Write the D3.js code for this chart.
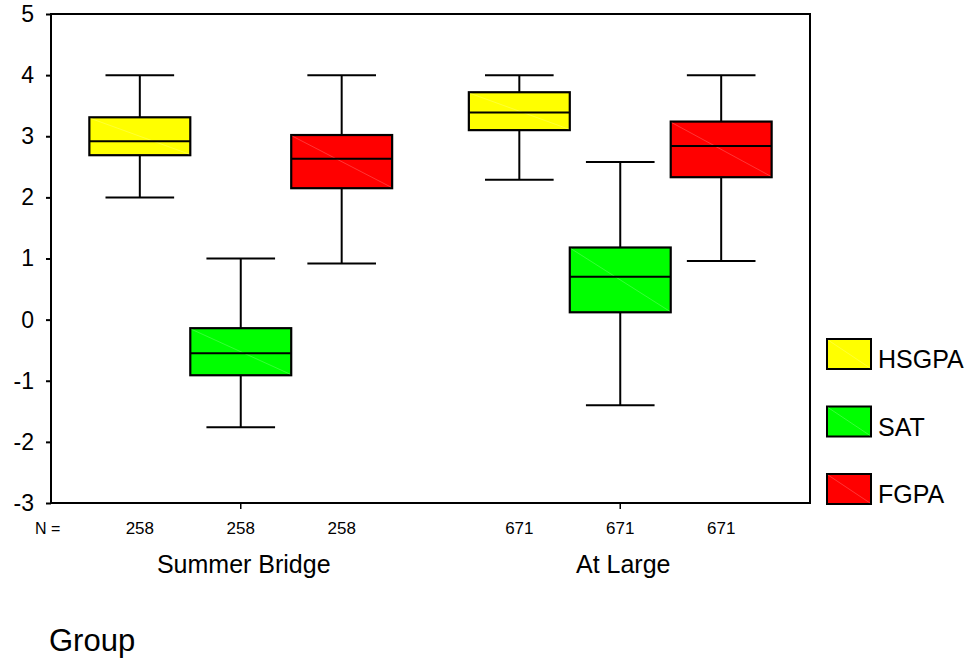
<!DOCTYPE html>
<html>
<head>
<meta charset="utf-8">
<script src="https://cdn.jsdelivr.net/npm/d3@7"></script>
<style>
  body { margin: 0; background: #fff; }
  text { font-family: Arial, "Liberation Sans", sans-serif; fill: #000; }
</style>
</head>
<body>
<div id="chart"></div>
<script>
// Box plot of standardized scores by group
const groups = ['Summer Bridge', 'At Large'];
const variables = ['HSGPA', 'SAT', 'FGPA'];
const colors = ['#ffff00', '#00ff00', '#ff0000'];
const counts = [258, 671];

// rows = groups, columns = variables
const whiskerHigh = [[4.0, 1.0, 4.0], [4.0, 2.58, 4.0]];
const q3 = [[3.31, -0.14, 3.02], [3.72, 1.18, 3.24]];
const median = [[2.92, -0.55, 2.63], [3.39, 0.70, 2.84]];
const q1 = [[2.69, -0.91, 2.15], [3.10, 0.12, 2.33]];
const whiskerLow = [[2.0, -1.76, 0.92], [2.29, -1.40, 0.96]];

const yTicks = [-3, -2, -1, 0, 1, 2, 3, 4, 5];

const W = 973, H = 659;
const plot = { left: 51, right: 810, top: 14, bottom: 503 };

const svg = d3.select('#chart').append('svg')
  .attr('width', W)
  .attr('height', H);

const x0 = d3.scaleBand()
  .domain(groups)
  .range([plot.left, plot.right]);

const x1 = d3.scaleBand()
  .domain(variables)
  .range([0, x0.bandwidth()])
  .paddingOuter(0.38);

const y = d3.scaleLinear()
  .domain([-3, 5])
  .range([plot.bottom, plot.top]);

// Flatten into box records
const boxes = [];
groups.forEach((g, gi) => {
  variables.forEach((v, vi) => {
    boxes.push({
      group: g, variable: v, color: colors[vi], n: counts[gi],
      hi: whiskerHigh[gi][vi], q3: q3[gi][vi], med: median[gi][vi],
      q1: q1[gi][vi], lo: whiskerLow[gi][vi]
    });
  });
});

const bw = x1.bandwidth();
const capW = bw * 0.68;

const b = svg.append('g').selectAll('g')
  .data(boxes)
  .enter()
  .append('g')
  .attr('transform', d => `translate(${x0(d.group) + x1(d.variable)},0)`);

// whisker stems
b.append('line')
  .attr('x1', bw / 2).attr('x2', bw / 2)
  .attr('y1', d => y(d.hi)).attr('y2', d => y(d.q3))
  .attr('stroke', '#000').attr('stroke-width', 2);
b.append('line')
  .attr('x1', bw / 2).attr('x2', bw / 2)
  .attr('y1', d => y(d.q1)).attr('y2', d => y(d.lo))
  .attr('stroke', '#000').attr('stroke-width', 2);

// caps
b.append('line')
  .attr('x1', (bw - capW) / 2).attr('x2', (bw + capW) / 2)
  .attr('y1', d => y(d.hi)).attr('y2', d => y(d.hi))
  .attr('stroke', '#000').attr('stroke-width', 2);
b.append('line')
  .attr('x1', (bw - capW) / 2).attr('x2', (bw + capW) / 2)
  .attr('y1', d => y(d.lo)).attr('y2', d => y(d.lo))
  .attr('stroke', '#000').attr('stroke-width', 2);

// box
b.append('rect')
  .attr('x', 0)
  .attr('y', d => y(d.q3))
  .attr('width', bw)
  .attr('height', d => y(d.q1) - y(d.q3))
  .attr('fill', d => d.color)
  .attr('stroke', '#000')
  .attr('stroke-width', 2.2);

// faint diagonal artifact
b.append('line')
  .attr('x1', 1).attr('x2', bw - 1)
  .attr('y1', d => y(d.q3) + 1).attr('y2', d => y(d.q1) - 1)
  .attr('stroke', '#fff').attr('stroke-opacity', 0.35).attr('stroke-width', 0.6);

// median
b.append('line')
  .attr('x1', 0).attr('x2', bw)
  .attr('y1', d => y(d.med)).attr('y2', d => y(d.med))
  .attr('stroke', '#000').attr('stroke-width', 2);

// frame
svg.append('rect')
  .attr('x', plot.left).attr('y', plot.top)
  .attr('width', plot.right - plot.left)
  .attr('height', plot.bottom - plot.top)
  .attr('fill', 'none')
  .attr('stroke', '#000')
  .attr('stroke-width', 2);

// Y axis
const yAxis = svg.append('g')
  .attr('transform', `translate(${plot.left},0)`)
  .call(d3.axisLeft(y).tickValues(yTicks).tickSize(5).tickSizeOuter(0).tickPadding(12)
    .tickFormat(d => String(d)));
yAxis.select('.domain').remove();
yAxis.selectAll('line').attr('stroke-width', 2);
yAxis.selectAll('text')
  .style('font-size', '23px')
  .style('font-family', 'Arial, "Liberation Sans", sans-serif');

// X axis (group ticks)
const xAxis = svg.append('g')
  .attr('transform', `translate(0,${plot.bottom})`)
  .call(d3.axisBottom(x0).tickSize(6).tickSizeOuter(0).tickFormat(''));
xAxis.select('.domain').remove();
xAxis.selectAll('line').attr('stroke-width', 1.5);

// N counts
svg.append('text')
  .attr('x', 35).attr('y', 534)
  .style('font-size', '16px')
  .text('N =');
svg.append('g').selectAll('text')
  .data(boxes)
  .enter()
  .append('text')
  .attr('x', d => x0(d.group) + x1(d.variable) + bw / 2)
  .attr('y', 534)
  .attr('text-anchor', 'middle')
  .style('font-size', '17px')
  .text(d => d.n);

// Group labels
svg.append('g').selectAll('text')
  .data(groups)
  .enter()
  .append('text')
  .attr('x', d => x0(d) + x0.bandwidth() / 2 + 3)
  .attr('y', 573)
  .attr('text-anchor', 'middle')
  .style('font-size', '25px')
  .text(d => d);

// Axis title
svg.append('text')
  .attr('x', 49).attr('y', 651)
  .style('font-size', '31px')
  .text('Group');

// Legend
const legend = svg.append('g').selectAll('g')
  .data(variables)
  .enter()
  .append('g')
  .attr('transform', (d, i) => `translate(827,${339 + i * 67.5})`);
legend.append('rect')
  .attr('width', 44).attr('height', 30)
  .attr('fill', (d, i) => colors[i])
  .attr('stroke', '#000').attr('stroke-width', 2);
legend.append('line')
  .attr('x1', 1).attr('y1', 1).attr('x2', 43).attr('y2', 29)
  .attr('stroke', '#fff').attr('stroke-opacity', 0.35).attr('stroke-width', 0.6);
legend.append('text')
  .attr('x', 51).attr('y', 29)
  .style('font-size', '25px')
  .text(d => d);
</script>
</body>
</html>
